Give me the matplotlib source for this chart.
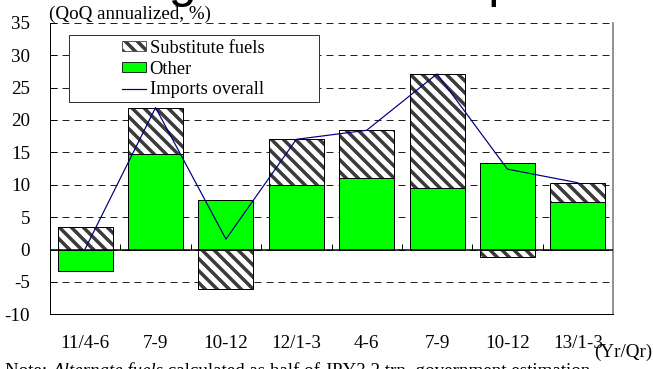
import numpy as np
import matplotlib.pyplot as plt
from matplotlib.patches import Patch, Rectangle
from matplotlib.lines import Line2D

# data (QoQ annualized, %)
quarters = ["11/4-6", "7-9", "10-12", "12/1-3", "4-6", "7-9", "10-12", "13/1-3"]
other = [-3.3, 14.7, 7.6, 10.0, 11.1, 9.5, 13.4, 7.4]
substitute = [3.4, 7.1, -6.1, 7.0, 7.3, 17.6, -1.2, 2.8]
imports_overall = [0.1, 21.9, 1.6, 17.0, 18.4, 27.1, 12.4, 10.3]

plt.rcParams['font.family'] = ['Liberation Serif', 'DejaVu Serif']
plt.rcParams['axes.unicode_minus'] = False
plt.rcParams['hatch.linewidth'] = 3.5

W, H = 653, 369
fig = plt.figure(figsize=(W / 72, H / 72), dpi=72)
ax = fig.add_axes([50 / W, 1 - 314.3 / H, 563 / W, (314.3 - 22.7) / H])

x = np.arange(len(quarters))
other = np.array(other)
substitute = np.array(substitute)
sub_bottom = np.where(np.sign(substitute) == np.sign(other), other, 0)

bw = 0.78
hatch = '\\\\'
ax.bar(x, other, bw, color='#00ff00', edgecolor='black', linewidth=1, zorder=3)
# hatched part: hatch takes the edge colour, so the outline is drawn separately
ax.bar(x, substitute, bw, bottom=sub_bottom, color='white', edgecolor='#3a3a3a',
       hatch=hatch, linewidth=0, zorder=3)
ax.bar(x, substitute, bw, bottom=sub_bottom, color='none', edgecolor='black',
       linewidth=1, zorder=4)
ax.plot(x, imports_overall, color='#000080', linewidth=1.2, zorder=5)

ax.set_xlim(-0.5, len(quarters) - 0.5)
ax.set_ylim(-10, 35)
ax.set_yticks(np.arange(-10, 36, 5))
ax.yaxis.grid(True, color='#222222', linestyle=(0, (7, 5)), linewidth=1)
ax.set_axisbelow(True)
ax.tick_params(axis='y', direction='in', length=7, width=1, pad=20, labelsize=19)
ax.set_xticks(x)
ax.set_xticklabels(quarters)
ax.tick_params(axis='x', length=0, pad=21, labelsize=19)

ax.axhline(0, color='black', linewidth=1.5, zorder=4)
ax.vlines(np.arange(0.5, len(quarters) - 0.5), 0, 0.8, color='black', linewidth=1, zorder=4)

ax.spines['top'].set_visible(False)
ax.spines['right'].set_color('#707070')
ax.spines['right'].set_linewidth(1.5)
ax.spines['left'].set_linewidth(1)
ax.spines['bottom'].set_linewidth(1)

# legend with a wide frame like the original
fig.patches.append(Rectangle((69 / W, 1 - 102 / H), 250 / W, 67 / H, transform=fig.transFigure,
                             facecolor='white', edgecolor='#333333', linewidth=1, zorder=2))
handles = [Patch(facecolor='white', edgecolor='#3a3a3a', hatch=hatch, linewidth=0.8),
           Patch(facecolor='#00ff00', edgecolor='black', linewidth=0.8),
           Line2D([], [], color='#000080', linewidth=1.2)]
fig.legend(handles, ["Substitute fuels", "Other", "Imports overall"],
           loc='upper left', bbox_to_anchor=(122 / W, 1 - 40 / H), frameon=False,
           fontsize=18.5, borderpad=0, borderaxespad=0, labelspacing=0.2,
           handlelength=1.3, handleheight=0.45, handletextpad=0.2).set_zorder(5)

fig.text(49 / W, 1 - 14 / H, "(QoQ annualized, %)", fontsize=19, va='center', ha='left')
fig.text(652 / W, 1 - 352 / H, "(Yr/Qr)", fontsize=19, va='center', ha='right')

# title and note are cut off by the edges in the original
fig.text(49 / W, 1 + 3 / H, "Changes in Real Imports", fontsize=50, family='Liberation Sans',
         ha='left', va='baseline')
t1 = fig.text(5 / W, 1 - 363 / H, "Note: ", fontsize=19, va='top', ha='left')
ann = plt.annotate("Alternate fuels", xy=(1, 0), xycoords=t1, va='bottom', ha='left',
                   fontsize=19, style='italic', annotation_clip=False)
plt.annotate(" calculated as half of JPY3.2 trn, government estimation",
             xy=(1, 0), xycoords=ann, va='bottom', ha='left', fontsize=19,
             annotation_clip=False)

fig.savefig("out.png", dpi=72)
